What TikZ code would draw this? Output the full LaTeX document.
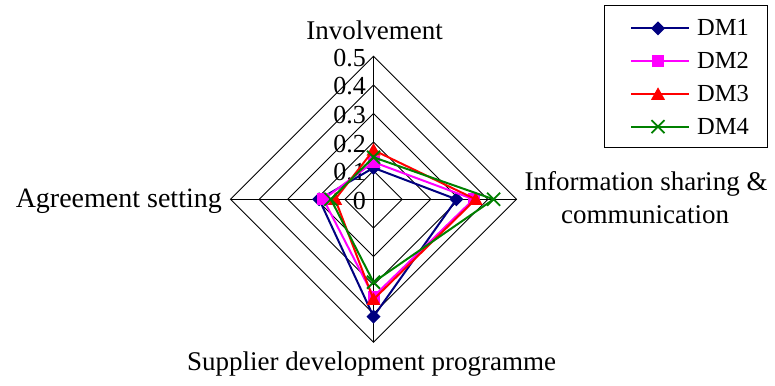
\documentclass[tikz,border=0pt]{standalone}
\usepackage{fontspec}
\setmainfont{Liberation Serif}
\definecolor{dmnavy}{RGB}{0,0,128}
\definecolor{dmmag}{RGB}{255,0,255}
\definecolor{dmred}{RGB}{255,0,0}
\definecolor{dmgreen}{RGB}{0,128,0}

\tikzset{
  gridline/.style={black, line width=0.9pt},
  series/.style={line width=2pt, line join=miter},
  catlabel/.style={inner sep=0pt, font=\fontsize{27pt}{33pt}\selectfont},
  ticklabel/.style={inner sep=0pt, anchor=base east, font=\fontsize{26pt}{30pt}\selectfont},
  legtext/.style={inner sep=0pt, anchor=base west, font=\fontsize{24.5pt}{28pt}\selectfont},
  pics/mkdiamond/.style={code={\fill[dmnavy] (0,7pt) -- (7pt,0) -- (0,-7pt) -- (-7pt,0) -- cycle;}},
  pics/mksquare/.style={code={\fill[dmmag] (-6pt,-6pt) rectangle (6pt,6pt);}},
  pics/mktriangle/.style={code={\fill[dmred] (0,7pt) -- (7pt,-5.5pt) -- (-7pt,-5.5pt) -- cycle;}},
  pics/mkcross/.style={code={\draw[dmgreen, line width=1.8pt] (-6.5pt,-6.5pt) -- (6.5pt,6.5pt) (-6.5pt,6.5pt) -- (6.5pt,-6.5pt);}},
}

\begin{document}
\begin{tikzpicture}
\useasboundingbox (0pt,0pt) rectangle (775pt,-385pt);

% radar chart, one unit = value 1.0
\begin{scope}[shift={(373.5pt,-199.3pt)}, x=286pt, y=286pt]
  \foreach \r in {0.1,0.2,0.3,0.4,0.5}
    \draw[gridline] (0,\r) -- (\r,0) -- (0,-\r) -- (-\r,0) -- cycle;
  \draw[gridline] (0,0.5) -- (0,-0.5) (-0.5,0) -- (0.5,0);

  \foreach \r/\t in {0/0,0.1/0.1,0.2/0.2,0.3/0.3,0.4/0.4,0.5/0.5}
    \node[ticklabel] (tick\t) at ([xshift=-7.5pt,yshift=-10pt]0,\r) {\t};

  % DM1
  \coordinate (a1) at (0,0.11);  \coordinate (a2) at (0.29,0);
  \coordinate (a3) at (0,-0.41); \coordinate (a4) at (-0.19,0);
  \draw[series, dmnavy] (a1) -- (a2) -- (a3) -- (a4) -- cycle;
  \foreach \p in {a1,a2,a3,a4} \pic at (\p) {mkdiamond};

  % DM2
  \coordinate (b1) at (0,0.13);  \coordinate (b2) at (0.35,0);
  \coordinate (b3) at (0,-0.34); \coordinate (b4) at (-0.175,0);
  \draw[series, dmmag] (b1) -- (b2) -- (b3) -- (b4) -- cycle;
  \foreach \p in {b1,b2,b3,b4} \pic at (\p) {mksquare};

  % DM3
  \coordinate (c1) at (0,0.172); \coordinate (c2) at (0.357,0);
  \coordinate (c3) at (0,-0.35); \coordinate (c4) at (-0.134,0);
  \draw[series, dmred] (c1) -- (c2) -- (c3) -- (c4) -- cycle;
  \foreach \p in {c1,c2,c3,c4} \pic at (\p) {mktriangle};

  % DM4
  \coordinate (e1) at (0,0.147); \coordinate (e2) at (0.42,0);
  \coordinate (e3) at (0,-0.29); \coordinate (e4) at (-0.149,0);
  \draw[series, dmgreen] (e1) -- (e2) -- (e3) -- (e4) -- cycle;
  \foreach \p in {e1,e2,e3,e4} \pic at (\p) {mkcross};
\end{scope}

% axis titles
\node[catlabel, anchor=base] (inv) at (374.5pt,-40pt) {Involvement};
\node[catlabel, anchor=base east, font=\fontsize{28pt}{33pt}\selectfont] (agr) at (222pt,-207.3pt) {Agreement setting};
\node[catlabel, anchor=base] (info1) at (646pt,-190pt) {Information sharing \&};
\node[catlabel, anchor=base] (info2) at (645pt,-223.3pt) {communication};
\node[catlabel, anchor=base] (sup) at (371.5pt,-370pt) {Supplier development programme};

% legend
\draw[line width=0.9pt] (604pt,-5pt) rectangle (767pt,-147pt);
\foreach \y/\c/\m/\t in {28.3/dmnavy/mkdiamond/DM1, 61.3/dmmag/mksquare/DM2,
                         94.3/dmred/mktriangle/DM3, 126.7/dmgreen/mkcross/DM4}{
  \draw[\c, line width=2pt] (631pt,-\y pt) -- (689pt,-\y pt);
  \pic at (658pt,-\y pt) {\m};
  \node[legtext] (leg\t) at (697pt,{-\y pt-7.5pt}) {\t};
}
\end{tikzpicture}
\end{document}
